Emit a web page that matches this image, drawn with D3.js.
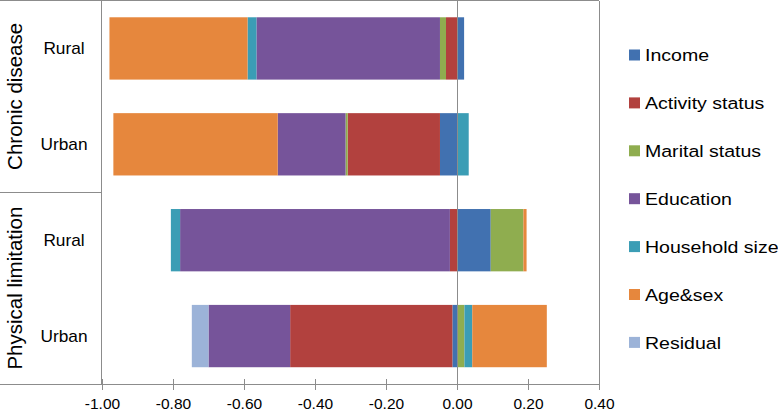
<!DOCTYPE html>
<html lang="en">
<head>
<meta charset="utf-8">
<title>Decomposition</title>
<style>
  body { margin: 0; background: #fff; }
  text { font-family: "Liberation Sans", Arial, sans-serif; fill: #000; }
  .frame { stroke: #8c8c8c; stroke-width: 1; fill: none; shape-rendering: crispEdges; }
  .axis path, .axis line { stroke: #8c8c8c; shape-rendering: crispEdges; }
  .axis text { font-size: 15.5px; fill: #000; }
</style>
</head>
<body>
<div id="chart"></div>
<script src="https://cdn.jsdelivr.net/npm/d3@7"></script>
<script>
// rows of the chart, top to bottom
var groups = ["Chronic disease", "Physical limitation"];
var places = ["Rural", "Urban", "Rural", "Urban"];
var rowIds = ["cd-rural", "cd-urban", "pl-rural", "pl-urban"];

var factors = ["Income", "Activity status", "Marital status", "Education", "Household size", "Age&sex", "Residual"];
var colors = ["#4171b0", "#b2413e", "#8fad4f", "#76549a", "#3b9db5", "#e6873d", "#9cb3d8"];

// contribution of each factor, one value per row
var income    = [ 0.020, -0.048,  0.095, -0.013];
var activity  = [-0.031, -0.260, -0.020, -0.457];
var marital   = [-0.017, -0.006,  0.092,  0.021];
var education = [-0.517, -0.191, -0.760, -0.230];
var household = [-0.025,  0.033, -0.026,  0.022];
var agesex    = [-0.389, -0.463,  0.009,  0.210];
var residual  = [ 0.000,  0.000,  0.000, -0.047];

var xTicks = [-1.0, -0.8, -0.6, -0.4, -0.2, 0.0, 0.2, 0.4];

var W = 778, H = 412;
var mLeft = 102, mRight = 599, mTop = 0.5, mBottom = 384;

var series = [income, activity, marital, education, household, agesex, residual];
var table = rowIds.map(function(id, i) {
  var r = { id: id };
  factors.forEach(function(f, j) { r[f] = series[j][i]; });
  return r;
});

var stacked = d3.stack()
    .keys(factors)
    .offset(d3.stackOffsetDiverging)(table);

var svg = d3.select("#chart").append("svg")
    .attr("width", W)
    .attr("height", H);

var x = d3.scaleLinear().domain([-1, 0.4]).range([mLeft, mRight]);
var y = d3.scaleBand().domain(rowIds).range([mTop, mBottom])
    .paddingInner(0.35).paddingOuter(0.175);

// bars
svg.append("g").selectAll("g")
    .data(stacked)
  .enter().append("g")
    .attr("fill", function(d, i) { return colors[i]; })
  .selectAll("rect")
    .data(function(d) { return d; })
  .enter().append("rect")
    .attr("x", function(d) { return x(Math.min(d[0], d[1])); })
    .attr("width", function(d) { return Math.abs(x(d[1]) - x(d[0])); })
    .attr("y", function(d) { return y(d.data.id); })
    .attr("height", y.bandwidth());

// frame
svg.append("line").attr("class", "frame")
    .attr("x1", 0).attr("x2", mRight).attr("y1", mTop).attr("y2", mTop);
svg.append("line").attr("class", "frame")
    .attr("x1", 0).attr("x2", mLeft).attr("y1", mBottom).attr("y2", mBottom);
svg.append("line").attr("class", "frame")
    .attr("x1", 0).attr("x2", mLeft).attr("y1", (mTop + mBottom) / 2 + 0.5).attr("y2", (mTop + mBottom) / 2 + 0.5);
svg.append("line").attr("class", "frame")
    .attr("x1", mLeft - 0.5).attr("x2", mLeft - 0.5).attr("y1", mTop).attr("y2", mBottom);
svg.append("line").attr("class", "frame")
    .attr("x1", mRight).attr("x2", mRight).attr("y1", mTop).attr("y2", mBottom);
svg.append("line").attr("class", "frame")
    .attr("x1", x(0)).attr("x2", x(0)).attr("y1", mTop).attr("y2", mBottom);

// x axis
var xAxis = d3.axisBottom(x)
    .tickValues(xTicks)
    .tickFormat(function(d) { return d3.format(".2f")(d).replace("\u2212", "-"); })
    .tickSizeInner(6)
    .tickSizeOuter(0)
    .tickPadding(8);

var gx = svg.append("g")
    .attr("class", "axis")
    .attr("transform", "translate(0," + mBottom + ")")
    .call(xAxis);
gx.selectAll(".tick line").attr("y1", -5).attr("y2", 6);

// row labels
svg.append("g").selectAll("text")
    .data(rowIds)
  .enter().append("text")
    .attr("transform", function(d) {
      return "translate(64," + (y(d) + y.bandwidth() / 2) + ") scale(1.08,1)";
    })
    .attr("dy", "0.35em")
    .attr("text-anchor", "middle")
    .style("font-size", "16px")
    .text(function(d, i) { return places[i]; });

// group labels
var half = (mBottom - mTop) / 2;
svg.append("g").selectAll("text")
    .data(groups)
  .enter().append("text")
    .attr("transform", function(d, i) {
      return "translate(22," + (mTop + half * i + half / 2) + ") rotate(-90)";
    })
    .attr("text-anchor", "middle")
    .style("font-size", "20.5px")
    .text(function(d) { return d; });

// legend
var legend = svg.append("g").selectAll("g")
    .data(factors)
  .enter().append("g")
    .attr("transform", function(d, i) { return "translate(629," + (55 + i * 47.9) + ")"; });

legend.append("rect")
    .attr("y", -5.5)
    .attr("width", 11)
    .attr("height", 11)
    .attr("fill", function(d, i) { return colors[i]; });

legend.append("text")
    .attr("transform", "translate(16,0) scale(1.15,1)")
    .attr("dy", "0.36em")
    .style("font-size", "17px")
    .text(function(d) { return d; });
</script>
</body>
</html>
